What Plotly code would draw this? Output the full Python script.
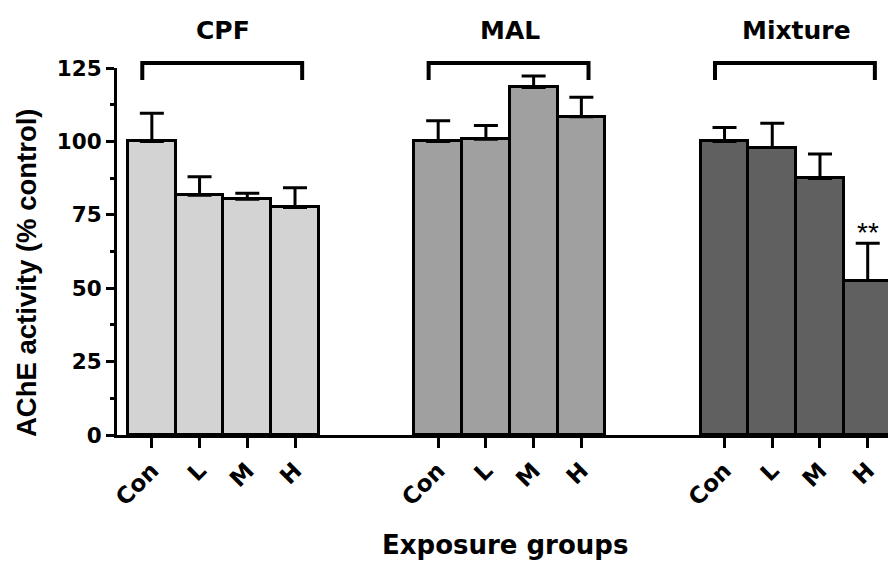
import plotly.graph_objects as go

groups = ["CPF", "MAL", "Mixture"]
doses = ["Con", "L", "M", "H"]
cpf_mean = [100.0, 81.7, 80.3, 77.5]
cpf_err = [9.6, 6.3, 2.0, 6.7]
mal_mean = [100.0, 100.7, 118.4, 108.4]
mal_err = [7.0, 4.7, 3.9, 6.6]
mix_mean = [100.0, 97.9, 87.4, 52.6]
mix_err = [4.7, 8.3, 8.3, 12.7]
colors = ["#d3d3d3", "#a0a0a0", "#606060"]
y_ticks = [0, 25, 50, 75, 100, 125]
sig_label = "**"

means = [cpf_mean, mal_mean, mix_mean]
errs = [cpf_err, mal_err, mix_err]
offsets = [0, 6, 12]

FONT = "DejaVu Sans"
fig = go.Figure()
tickvals, ticktext = [], []
for g, off in enumerate(offsets):
    xs = [off + i for i in range(len(doses))]
    tickvals += xs
    ticktext += doses
    fig.add_trace(go.Bar(
        x=xs, y=means[g], width=1.0,
        marker=dict(color=colors[g], line=dict(color="black", width=3)),
        error_y=dict(type="data", array=errs[g], arrayminus=[0]*4, symmetric=False,
                     color="black", thickness=3, width=12),
        showlegend=False, name=groups[g]))
    # group bracket
    x0, x1 = xs[0] - 0.2, xs[-1] + 0.15
    fig.add_shape(type="path", xref="x", yref="paper",
                  path=f"M {x0},0.967 L {x0},1.0136 L {x1},1.0136 L {x1},0.967",
                  line=dict(color="black", width=4))
    fig.add_annotation(x=(xs[0] + xs[-1]) / 2, y=1.1035, xref="x", yref="paper",
                       text=f"<b>{groups[g]}</b>", showarrow=False,
                       font=dict(family=FONT, size=25, color="black"),
                       xanchor="center", yanchor="middle")

# significance marker
fig.add_annotation(x=offsets[2] + 3, y=mix_mean[3] + mix_err[3], xref="x", yref="y",
                   text=sig_label, showarrow=False, yanchor="bottom", yshift=-7,
                   font=dict(family="Liberation Sans", size=28, color="black"))

fig.add_annotation(x=0.5, y=-0.2997, xref="paper", yref="paper",
                   text="<b>Exposure groups</b>", showarrow=False,
                   font=dict(family=FONT, size=26, color="black"),
                   xanchor="center", yanchor="middle")
fig.add_annotation(x=-0.1173, y=0.444, xref="paper", yref="paper",
                   text="<b>AChE activity (% control)</b>", showarrow=False, textangle=-90,
                   font=dict(family="Liberation Sans", size=27.5, color="black"),
                   xanchor="center", yanchor="middle")

fig.update_layout(
    width=888, height=553,
    margin=dict(l=109, r=3, t=60, b=126),
    paper_bgcolor="white", plot_bgcolor="white",
    bargap=0,
    xaxis=dict(range=[-0.73, 15.53], tickmode="array", tickvals=tickvals, ticktext=ticktext,
               tickangle=-45, showline=True, linecolor="black", linewidth=3,
               ticks="outside", ticklen=10, tickwidth=3, tickcolor="black",
               showgrid=False, zeroline=False,
               tickfont=dict(family=FONT, size=23, color="black", weight="bold")),
    yaxis=dict(range=[0, 125], tickvals=y_ticks, showline=True, linecolor="black", linewidth=3,
               ticks="outside", ticklen=8, tickwidth=3, tickcolor="black",
               minor=dict(ticks="outside", ticklen=4, tickwidth=3, tickcolor="black", dtick=12.5, tick0=0),
               showgrid=False, zeroline=False,
               tickfont=dict(family=FONT, size=21.5, color="black", weight="bold")),
)

fig.write_html("out.html")
